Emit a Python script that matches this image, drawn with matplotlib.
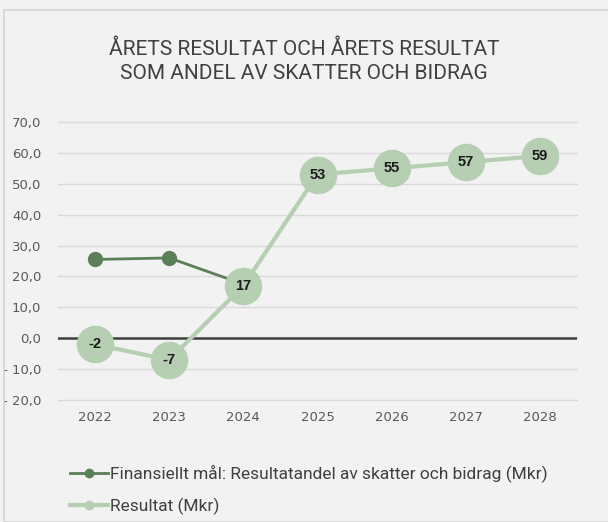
import matplotlib.pyplot as plt
from matplotlib.patches import Rectangle
from matplotlib.ticker import FuncFormatter, MultipleLocator

years = ["2022", "2023", "2024", "2025", "2026", "2027", "2028"]
mal = [25.5, 26.0, 17.5]                  # Finansiellt mål, 2022-2024
resultat = [-2, -7, 17, 53, 55, 57, 59]   # Resultat (Mkr)

title = "ÅRETS RESULTAT OCH ÅRETS RESULTAT\nSOM ANDEL AV SKATTER OCH BIDRAG"
mal_label = "Finansiellt mål: Resultatandel av skatter och bidrag (Mkr)"
res_label = "Resultat (Mkr)"

narrow = "Roboto"
bg = "#f2f2f2"
dark = "#5b7f57"
light = "#b6cfb3"
txt = "#595959"

fig = plt.figure(figsize=(6.08, 5.22), dpi=100, facecolor=bg)
fig.patches.append(Rectangle((4 / 608, 0), 1, 1 - 10 / 522, transform=fig.transFigure,
                             facecolor="none", edgecolor="#d4d4d4", lw=1.2))

ax = fig.add_axes([58 / 608, 1 - 400 / 522, 519 / 608, 278 / 522], facecolor=bg)
x = list(range(len(years)))

ax.set_ylim(-20, 70)
ax.set_xlim(-0.5, len(years) - 0.5)
ax.yaxis.set_major_locator(MultipleLocator(10))
ax.grid(axis="y", color="#d9d9d9", lw=1)
for gl in ax.get_ygridlines():
    gl.set_clip_on(False)
ax.set_axisbelow(True)
ax.axhline(0, color="#404040", lw=1.8, zorder=1)

def fmt(v, pos):
    s = f"{abs(v):.1f}".replace(".", ",")
    return "- " + s if v < 0 else s

ax.yaxis.set_major_formatter(FuncFormatter(fmt))
ax.set_xticks(x)
ax.set_xticklabels(years)
ax.tick_params(length=0, colors=txt, labelsize=9.5, pad=8)
ax.tick_params(axis="y", pad=12)
for s in ax.spines.values():
    s.set_visible(False)

ax.plot(x[:len(mal)], mal, color=dark, lw=2, marker="o", ms=10, zorder=3, label=mal_label)
ax.plot(x, resultat, color=light, lw=3, marker="o", ms=26, zorder=4, label=res_label)
for xi, v in zip(x, resultat):
    ax.text(xi, v, str(v), ha="center", va="center", fontsize=10.5, fontweight="bold",
            family="Liberation Sans", color="#1a1a1a", zorder=5)

fig.text(0.5, 1 - 61 / 522, title, ha="center", va="center", fontsize=15,
         color="#404040", family=narrow, linespacing=1.35)

h_mal = plt.Line2D([], [], color=dark, lw=2, marker="o", ms=6)
h_res = plt.Line2D([], [], color=light, lw=3, marker="o", ms=6)
fig.legend([h_mal, h_res], [mal_label, res_label], loc="upper left",
           bbox_to_anchor=(54 / 608, 1 - 449 / 522), frameon=False, handlelength=2.2,
           handletextpad=0.1, labelspacing=0.85, prop={"family": narrow, "size": 12.5},
           labelcolor="#404040")

fig.savefig("out.png", dpi=100, facecolor=bg)
